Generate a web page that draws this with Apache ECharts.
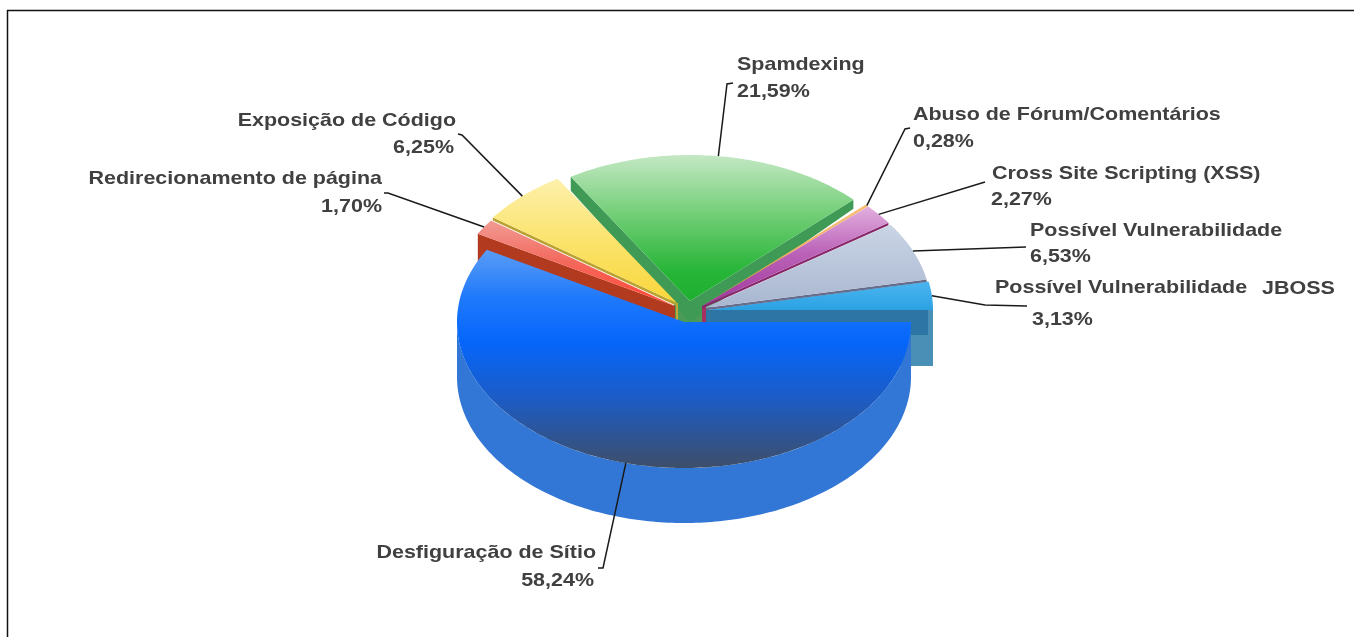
<!DOCTYPE html>
<html>
<head>
<meta charset="utf-8">
<style>html,body{margin:0;padding:0;background:#fff}#c{width:1354px;height:637px}</style>
<script src="https://cdn.jsdelivr.net/npm/echarts@6/dist/echarts.min.js"></script>
</head>
<body>
<div id="c"></div>
<script>
// ---- data ----
var categories = ['Desfiguração de Sítio','Redirecionamento de página','Exposição de Código','Spamdexing','Abuso de Fórum/Comentários','Cross Site Scripting (XSS)','Possível Vulnerabilidade','Possível Vulnerabilidade  JBOSS'];
var shares = [58.24,1.70,6.25,21.59,0.28,2.27,6.53,3.13];

// ---- layout and style, separate from the data ----
var RX = 227, RY = 146;
var centers = [[684,322],[675,306],[677,303],[690,301],[702,306],[702,306],[704,308],[706,310]];
var drawOrder = [3,4,7,6,5,2,1,0];
var faceStops = [
  [250,468,[[0,'#5a9cf6'],[0.22,'#1f79fb'],[0.42,'#0566fb'],[0.68,'#1c5cc6'],[1,'#3e4e69']]],
  [222,300,[[0,'#f19a92'],[0.5,'#f4695e'],[1,'#ff4a38']]],
  [180,303,[[0,'#fdf0aa'],[0.5,'#fbe36c'],[1,'#f9d63a']]],
  [155,300,[[0,'#c4e8c4'],[0.4,'#74cf78'],[0.8,'#27b538'],[1,'#1fb030']]],
  [200,300,[[0,'#f7c27a'],[1,'#eda040']]],
  [205,300,[[0,'#e4b2e0'],[0.5,'#bb63b8'],[1,'#a43aa0']]],
  [222,308,[[0,'#cbd6e6'],[1,'#a8b6d0']]],
  [281,312,[[0,'#4cb6f0'],[1,'#29a0e2']]]
];
// cut faces: [which edge, rim depth, apex depth, colour, rim inset]
var cuts = [
  [],
  [['s',30,30,'#b23a1f',0]],
  [['s',3,3,'#b9a233',0]],
  [['s',14,21,'#3f9a55',0],['e',9,21,'#3f9a55',0]],
  [],
  [['e',2.5,2.5,'#86286a',0]],
  [['e',2.5,2.5,'#666c8c',0]],
  [['e',56,56,'#4a8fb5',0],['e',25,25,'#2d75a5',5]]
];
var sideDepth = [55,0,0,0,0,0,0,0];
var sideColor = '#3377d6';
// small vertical blocks at the centre: [left, right, height, colour] relative to the centre
var hubs = [null,null,[-1,1,19,'#c2a838'],[-16,13,21,'#4c9a58'],null,[0,4,16,'#a5305f'],null,null];
var labelPos = [
  {x:596,y:553,x2:594,y2:581,align:'right',line:[[603,568],[598,568]]},
  {x:382,y:179,x2:382,y2:207,align:'right',line:[[388,193],[384,193]]},
  {x:456,y:121,x2:454,y2:148,align:'right',line:[[462,135],[458,134]]},
  {x:737,y:65,x2:737,y2:92,align:'left',line:[[727,84],[733,83]]},
  {x:913,y:115,x2:913,y2:142,align:'left',line:[[905,129],[910,128]]},
  {x:992,y:174,x2:991,y2:200,align:'left',line:[[985,182]]},
  {x:1030,y:231,x2:1030,y2:257,align:'left',line:[[1026,247]]},
  {x:995,y:288,x2:1032,y2:320,align:'left',line:[[985,305],[1027,306]]}
];
var suffixX = 1262;
var FONT = 'bold 19px "Liberation Sans", Arial, sans-serif';
var TEXT = '#404040';
var SCALE = 1.13;

var total = shares.reduce(function(a,b){return a+b;},0);
var angles = []; (function(){var a=0;shares.forEach(function(v){var b=a+v/total*360;angles.push([a,b]);a=b;});})();
function pt(c,deg,dy,inset){var r=deg*Math.PI/180,k=inset||0;return [c[0]+(RX-k)*Math.cos(r),c[1]+RY*Math.sin(r)+(dy||0)];}
function arc(c,a,b,dy){var n=Math.max(2,Math.ceil(Math.abs(b-a))),o=[];for(var i=0;i<=n;i++)o.push(pt(c,a+(b-a)*i/n,dy));return o;}
function grad(s){return new echarts.graphic.LinearGradient(0,s[0],0,s[1],s[2].map(function(t){return {offset:t[0],color:t[1]};}),true);}
function poly(points,fill,z){return {type:'polygon',shape:{points:points},style:{fill:fill},z2:z};}
function txt(s,x,y,align,z,font){return {type:'text',x:x,y:y,scaleX:SCALE,z2:z,style:{text:s,x:0,y:0,font:font||FONT,fill:TEXT,align:align,verticalAlign:'middle'}};}

function renderItem(params,api){
  var i=params.dataIndex, val=api.value(0), c=centers[i], a=angles[i][0], b=angles[i][1];
  var base=(drawOrder.indexOf(i)+1)*10, kids=[];
  if(sideDepth[i]){
    var front=arc(c,a,Math.min(b,180),0), bot=arc(c,a,Math.min(b,180),sideDepth[i]).reverse();
    kids.push(poly(front.concat(bot),sideColor,base));
  }
  if(hubs[i]) kids.push(poly([[c[0]+hubs[i][0],c[1]],[c[0]+hubs[i][1],c[1]],[c[0]+hubs[i][1],c[1]+hubs[i][2]],[c[0]+hubs[i][0],c[1]+hubs[i][2]]],hubs[i][3],base+1));
  cuts[i].forEach(function(t,k){
    var ang=t[0]==='s'?a:b;
    kids.push(poly([pt(c,ang,0,t[4]),c,[c[0],c[1]+t[2]],pt(c,ang,t[1],t[4])],t[3],base+1+k));
  });
  kids.push(poly([c].concat(arc(c,a,b,0)),grad(faceStops[i]),base+5));
  // leader line from the rim at the middle of the slice
  var L=labelPos[i], mid=pt(c,(a+b)/2,0);
  kids.push({type:'polyline',shape:{points:[mid].concat(L.line)},style:{stroke:'#1a1a1a',lineWidth:1.5,fill:null},z2:200});
  // texts
  var parts=categories[i].split('  ');
  kids.push(txt(parts[0],L.x,L.y,L.align,210));
  if(parts[1]) kids.push(txt(parts[1],suffixX,L.y+1,'left',210));
  kids.push(txt(val.toFixed(2).replace('.',',')+'%',L.x2,L.y2,L.align,210));
  return {type:'group',children:kids};
}

var chart=echarts.init(document.getElementById('c'),null,{renderer:'canvas'});
chart.setOption({
  animation:false,
  backgroundColor:'#ffffff',
  graphic:[
    {type:'line',shape:{x1:7,y1:10.5,x2:1354,y2:10.5},style:{stroke:'#111',lineWidth:1.5},silent:true},
    {type:'line',shape:{x1:7.5,y1:10,x2:7.5,y2:637},style:{stroke:'#111',lineWidth:1.5},silent:true}
  ],
  series:[{
    type:'custom',coordinateSystem:'none',silent:true,clip:false,
    renderItem:renderItem,
    data:categories.map(function(n,i){return {name:n,value:[shares[i],i]};})
  }]
});
</script>
</body>
</html>
